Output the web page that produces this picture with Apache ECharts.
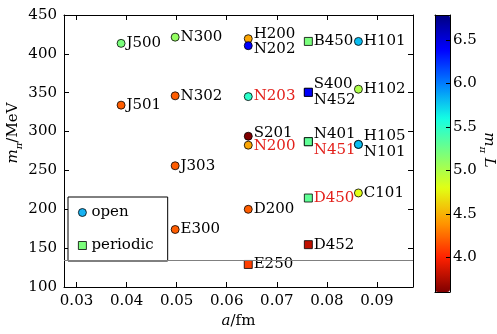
<!DOCTYPE html>
<html><head><meta charset="utf-8">
<script src="https://cdn.jsdelivr.net/npm/echarts@6/dist/echarts.min.js"></script>
<style>html,body{margin:0;padding:0;background:#fff}#c{width:497px;height:334px}</style>
</head><body><div id="c"></div>
<script>
// ---- data ----
const ensembles      = ['J500','J501','N300','N302','J303','E300','H200','N202','N203','S201','N200','D200','E250','B450','S400','N452','N401','N451','D450','D452','H101','H102','H105','N101','C101'];
const latticeSpacing = [0.0389,0.0389,0.0497,0.0497,0.0497,0.0497,0.0643,0.0643,0.0643,0.0643,0.0643,0.0643,0.0643,0.0763,0.0763,0.0763,0.0763,0.0763,0.0763,0.0763,0.0863,0.0863,0.0863,0.0863,0.0863];
const pionMass       = [413.5,334,421.5,346,256,174,419.5,410.5,345,294,282.5,200,129,416,350.5,350.5,287,287,214.5,154.5,416,354.5,283.5,283.5,221];
const mPiL           = [5.2,4.2,5.1,4.2,4.2,4.2,4.45,6.4,5.5,3.6,4.45,4.2,4.1,5.2,6.4,6.4,5.3,5.3,5.3,3.8,5.8,5.0,5.8,5.8,4.8];
const boundary       = ['open','open','open','open','open','open','open','open','open','open','open','open','periodic','periodic','periodic','periodic','periodic','periodic','periodic','periodic','open','open','open','open','open'];
const redLabels      = ['N203','N200','N451','D450'];
const xTickValues    = [0.03,0.04,0.05,0.06,0.07,0.08,0.09];
const yTickValues    = [100,150,200,250,300,350,400,450];
const cbTickValues   = [4.0,4.5,5.0,5.5,6.0,6.5];
const physicalPion   = 135;
const cbRange        = [3.6, 6.79];

// ---- styles ----
const FONT = 'DejaVu Serif';
const FS = 15;
const labelShift = {H200:-5, N202:3, S201:-3, N200:1, S400:-8, N452:8, N401:-8, N451:8, H105:-8, N101:8};
const jetR = ['#800000','#FF2100','#FF9700','#E2FF14','#7BFF7B','#14FFE3','#0080FF','#0000FF','#000080'];

function build(type){
  const out = [];
  ensembles.forEach((n,i)=>{
    if (boundary[i] !== type) return;
    out.push({
      name:n,
      value:[latticeSpacing[i], pionMass[i], mPiL[i]],
      label:{offset:[0, labelShift[n]||0], color: redLabels.includes(n) ? '#e3201b' : '#000'}
    });
  });
  return out;
}

const labelCommon = {show:true, position:'right', distance:1, formatter:'{b}', fontFamily:FONT, fontSize:FS};
const tickStyle = {inside:true, length:5, lineStyle:{color:'#000', width:1}};
const lineStyle = {show:true, onZero:false, lineStyle:{color:'#000', width:1}};

const chart = echarts.init(document.getElementById('c'), null, {renderer:'canvas'});
chart.setOption({
  animation:false,
  backgroundColor:'#fff',
  grid:[
    {left:64, right:84, top:15, bottom:43},
    {left:435, top:15, width:15, height:277}
  ],
  xAxis:[
    {type:'value', gridIndex:0, min:0.0275, max:0.0972, position:'bottom',
     axisLine:lineStyle, splitLine:{show:false},
     axisTick:Object.assign({customValues:xTickValues}, tickStyle),
     axisLabel:{customValues:xTickValues, fontFamily:FONT, fontSize:FS, color:'#000', margin:7, formatter:v=>v.toFixed(2)},
     name:'{i|a}{n|/fm}', nameLocation:'middle', nameGap:27,
     nameTextStyle:{verticalAlign:'top', rich:{i:{fontFamily:FONT, fontStyle:'italic', fontSize:FS, color:'#000'}, n:{fontFamily:FONT, fontSize:FS, color:'#000'}}}},
    {type:'value', gridIndex:0, min:0.0275, max:0.0972, position:'top',
     axisLine:lineStyle, splitLine:{show:false},
     axisTick:Object.assign({customValues:xTickValues}, tickStyle),
     axisLabel:{show:false}},
    {type:'value', gridIndex:1, min:0, max:1, position:'bottom', z:10,
     axisLine:lineStyle, axisTick:{show:false}, axisLabel:{show:false}, splitLine:{show:false}},
    {type:'value', gridIndex:1, min:0, max:1, position:'top', z:10,
     axisLine:lineStyle, axisTick:{show:false}, axisLabel:{show:false}, splitLine:{show:false}}
  ],
  yAxis:[
    {type:'value', gridIndex:0, min:100, max:450, interval:50, position:'left',
     axisLine:lineStyle, splitLine:{show:false},
     axisTick:tickStyle,
     axisLabel:{fontFamily:FONT, fontSize:FS, color:'#000', margin:7}},
    {type:'value', gridIndex:0, min:100, max:450, interval:50, position:'right',
     axisLine:lineStyle, splitLine:{show:false},
     axisTick:tickStyle, axisLabel:{show:false}},
    {type:'value', gridIndex:1, min:cbRange[0], max:cbRange[1], position:'left', z:10,
     axisLine:lineStyle, axisTick:{show:false}, axisLabel:{show:false}, splitLine:{show:false}},
    {type:'value', gridIndex:1, min:cbRange[0], max:cbRange[1], position:'right', z:10,
     axisLine:lineStyle, splitLine:{show:false},
     axisTick:{customValues:cbTickValues, inside:true, length:4, lineStyle:{color:'#000', width:1}},
     axisLabel:{customValues:cbTickValues, fontFamily:FONT, fontSize:FS, color:'#000', margin:3, formatter:v=>v.toFixed(1)}}
  ],
  visualMap:{
    type:'continuous', min:cbRange[0], max:cbRange[1], dimension:2, seriesIndex:[0,1],
    inRange:{color:jetR}, orient:'vertical', left:435, top:15, itemWidth:15, itemHeight:277,
    padding:0, calculable:false, hoverLink:false, text:null
  },
  legend:{
    left:68, top:197, orient:'vertical', padding:[8,14,8,10], itemGap:18,
    itemWidth:8, itemHeight:8, borderColor:'#000', borderWidth:1, backgroundColor:'#fff',
    textStyle:{fontFamily:FONT, fontSize:FS, color:'#000'},
    data:[
      {name:'open', icon:'circle', itemStyle:{color:'#17b2f2', borderColor:'#000', borderWidth:0.8}},
      {name:'periodic', icon:'rect', itemStyle:{color:'#7BFF7B', borderColor:'#000', borderWidth:0.8}}
    ]
  },
  series:[
    {type:'scatter', name:'open', symbol:'circle', symbolSize:8, xAxisIndex:0, yAxisIndex:0,
     data:build('open'), itemStyle:{borderColor:'#000', borderWidth:0.8, opacity:1},
     label:labelCommon, emphasis:{disabled:true},
     markLine:{silent:true, symbol:'none', label:{show:false}, lineStyle:{color:'#808080', type:'solid', width:1},
               data:[{yAxis:physicalPion}]}},
    {type:'scatter', name:'periodic', symbol:'rect', symbolSize:8, xAxisIndex:0, yAxisIndex:0,
     data:build('periodic'), itemStyle:{borderColor:'#000', borderWidth:0.8, opacity:1},
     label:labelCommon, emphasis:{disabled:true}}
  ],
  graphic:[
    {type:'text', x:13, y:133, rotation:Math.PI/2,
     style:{text:'{i|m}{s|π}{n|/MeV}', align:'center', verticalAlign:'middle',
       rich:{i:{fontFamily:FONT, fontStyle:'italic', fontSize:FS, fill:'#000', lineHeight:22, verticalAlign:'middle'},
             s:{fontFamily:FONT, fontStyle:'italic', fontSize:10, fill:'#000', lineHeight:12, verticalAlign:'bottom'},
             n:{fontFamily:FONT, fontSize:FS, fill:'#000', lineHeight:22, verticalAlign:'middle'}}}},
    {type:'text', x:489, y:150, rotation:-Math.PI/2,
     style:{text:'{i|m}{s|π}{i| L}', align:'center', verticalAlign:'middle',
       rich:{i:{fontFamily:FONT, fontStyle:'italic', fontSize:FS, fill:'#000', lineHeight:22, verticalAlign:'middle'},
             s:{fontFamily:FONT, fontStyle:'italic', fontSize:10, fill:'#000', lineHeight:12, verticalAlign:'bottom'}}}}
  ]
});
</script></body></html>
